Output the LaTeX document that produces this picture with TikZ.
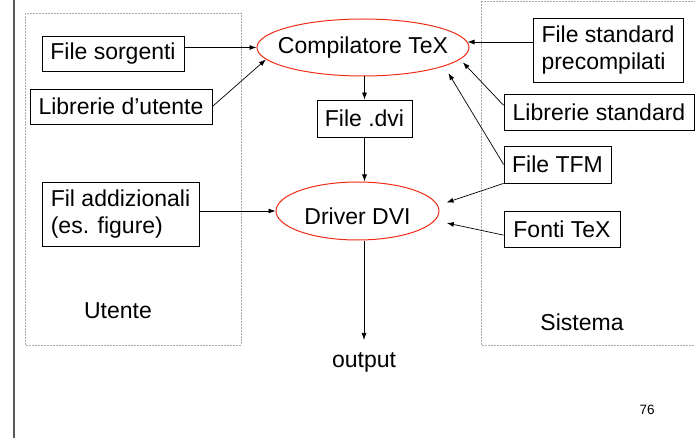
\documentclass[tikz,border=0pt]{standalone}
\usepackage{fontspec}
\setmainfont{Liberation Sans}
\usetikzlibrary{shapes.geometric,arrows.meta}
\definecolor{ellred}{RGB}{240,45,20}
\definecolor{areagray}{RGB}{170,170,170}

\begin{document}
\begin{tikzpicture}[x=1pt,y=-1pt,
		every node/.style={font=\fontsize{23}{27.6}\selectfont},
		box/.style={draw, line width=0.8pt, inner sep=0pt, align=left},
		proc/.style={ellipse, draw=ellred, line width=1pt, inner sep=0pt},
		area/.style={draw=areagray, line width=0.6pt, dash pattern=on 2pt off 1pt},
		conn/.style={-{Latex[length=7pt,width=5pt]}, line width=0.7pt}]
			\useasboundingbox (0,0) rectangle (695,438);

			% Side line and dashed areas
			\draw[black!65, line width=1.6pt] (14,0) -- (14,438);
			\draw[area] (25,13) rectangle (241,345);
			\draw[area] (481,1) rectangle (702,345);

			\node (utente) at (118,311) {Utente};
			\node (sistema) at (582,322) {Sistema};

			% Nodes
			\node[proc, inner xsep=-20pt, minimum width=212pt, minimum height=57pt] (comp) at (363,47.5) {Compilatore TeX};
			\node[box, minimum width=95pt, minimum height=37pt] (dvi) at (364.5,118.5) {File .dvi};
			\node[proc, minimum width=163pt, minimum height=58pt, text height=28pt, text depth=0pt] (driver) at (357.5,211) {Driver DVI};
			\node[inner ysep=12pt] (out) at (364,362) {output};

			\node[box, minimum width=142pt, minimum height=35pt] (sorg) at (113,53.5) {File sorgenti};
			\node[box, minimum width=182pt, minimum height=35pt] (libu) at (121,106.5) {Librerie d'utente};
			\node[box, minimum width=157pt, minimum height=64pt] (addiz) at (120.5,214) {Fil addizionali\\(es. figure)};

			\node[box, minimum width=150pt, minimum height=64pt] (precomp) at (608,50) {File standard\\precompilati};
			\node[box, minimum width=190pt, minimum height=36pt] (libs) at (599,112) {Librerie standard};
			\node[box, minimum width=107pt, minimum height=37pt] (tfm) at (557.5,164.5) {File TFM};
			\node[box, minimum width=116pt, minimum height=36pt] (fonti) at (562,229) {Fonti TeX};

			\node[font=\fontsize{13.5}{16}\selectfont] (pg) at (647,410) {76};

			% Arrows
			\draw[conn] (sorg.east |- comp.west) -- (comp.west);
			\draw[conn] (libu.east) -- (comp.187);
			\draw[conn] (precomp.west |- comp.3) -- (comp.3);
			\draw[conn, shorten >=4pt] (libs.176) -- (comp.-7);
			\draw[conn, shorten >=8pt] (tfm.west) -- (comp.-13);
			\draw[conn] (dvi.north |- comp.south) -- (dvi.north);
			\draw[conn] (dvi.south) -- (dvi.south |- driver.north);
			\draw[conn] (addiz.east |- driver.west) -- (driver.west);
			\draw[conn, shorten >=9pt] (tfm.south west) -- (driver.4);
			\draw[conn, shorten >=12pt] (fonti.186) -- (driver.-7);
			\draw[conn] (out |- driver.south) -- (out);
		\end{tikzpicture}
\end{document}
